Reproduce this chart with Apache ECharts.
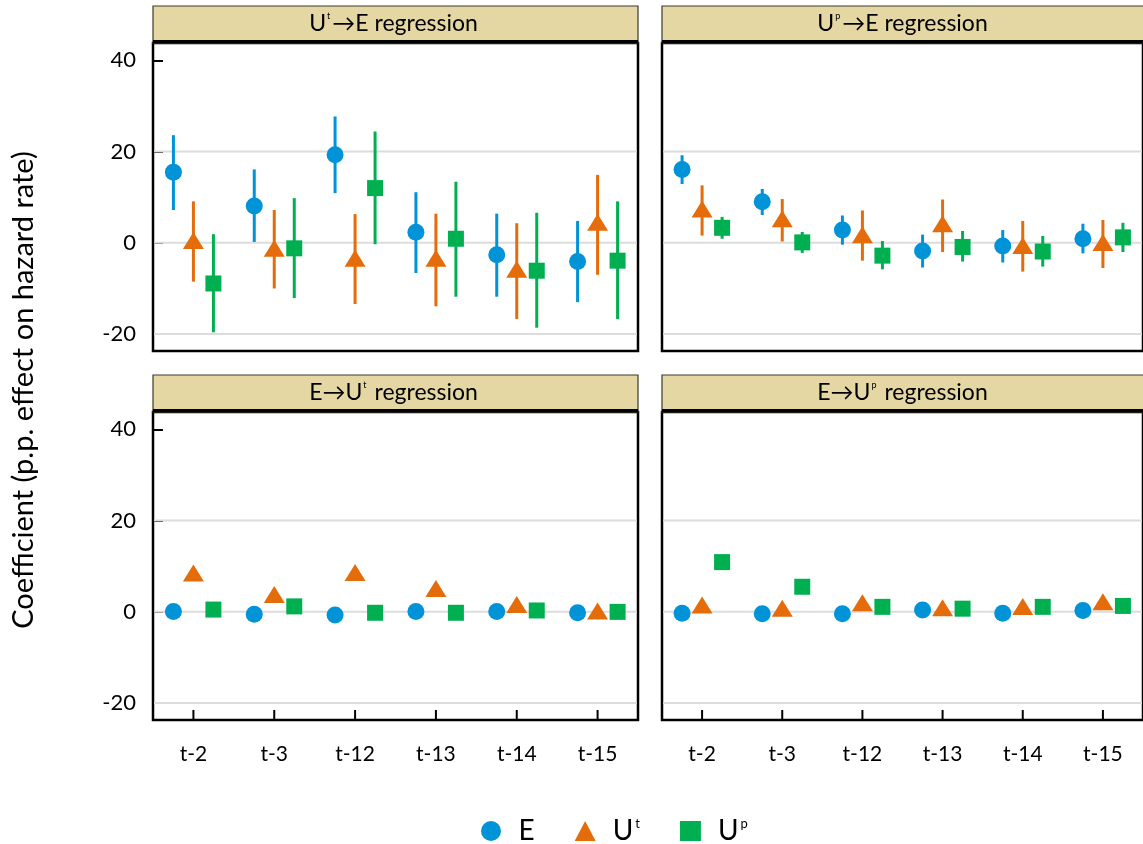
<!DOCTYPE html>
<html><head><meta charset="utf-8">
<script src="https://cdn.jsdelivr.net/npm/echarts@6/dist/echarts.min.js"></script>
<style>html,body{margin:0;padding:0;background:#fff}#c{width:1143px;height:844px}</style>
</head><body><div id="c"></div>
<script>
const categories = ['t-2', 't-3', 't-12', 't-13', 't-14', 't-15'];
const yTicks = [-20, 0, 20, 40];
const gridValues = [-20, 0, 20];
const yMin = -23.7, yMax = 43.8;
const seriesNames = ['E', 'Ut', 'Up'];
// [estimate, lower, upper]
const utE_E  = [[15.5, 7.2, 23.6], [8.1, 0.2, 16.1], [19.3, 10.9, 27.7], [2.3, -6.6, 11.1], [-2.6, -11.8, 6.4], [-4.1, -13.0, 4.8]];
const utE_Ut = [[0.5, -8.5, 9.1], [-1.2, -10.0, 7.2], [-3.4, -13.4, 6.3], [-3.4, -13.9, 6.4], [-5.8, -16.7, 4.3], [4.5, -7.0, 14.9]];
const utE_Up = [[-8.9, -19.6, 1.9], [-1.2, -12.1, 9.8], [12.0, -0.3, 24.4], [0.9, -11.8, 13.4], [-6.1, -18.6, 6.6], [-3.9, -16.7, 9.1]];
const upE_E  = [[16.1, 12.9, 19.2], [9.0, 6.1, 11.8], [2.8, -0.4, 6.0], [-1.8, -5.4, 1.8], [-0.7, -4.3, 2.8], [0.9, -2.3, 4.2]];
const upE_Ut = [[7.4, 1.6, 12.6], [5.3, 0.3, 9.6], [1.8, -3.9, 7.1], [4.2, -2.0, 9.5], [-0.6, -6.3, 4.8], [0.1, -5.5, 5.0]];
const upE_Up = [[3.3, 0.9, 5.7], [0.1, -2.2, 2.4], [-2.8, -5.8, 0.4], [-0.9, -4.1, 2.6], [-1.9, -5.2, 1.5], [1.2, -2.0, 4.4]];
// estimates only
const eUt_E  = [0.1, -0.5, -0.7, 0.1, 0.1, -0.2];
const eUt_Ut = [8.5, 3.8, 8.6, 5.1, 1.6, 0.2];
const eUt_Up = [0.5, 1.2, -0.2, -0.2, 0.3, 0.0];
const eUp_E  = [-0.3, -0.4, -0.4, 0.4, -0.3, 0.3];
const eUp_Ut = [1.5, 0.8, 2.0, 0.9, 1.2, 2.2];
const eUp_Up = [10.9, 5.5, 1.1, 0.7, 1.1, 1.3];

const COLORS = {E: '#0093D8', Ut: '#E46C0A', Up: '#00AF50'};
const SYMBOLS = {E: 'circle', Ut: 'triangle', Up: 'rect'};
const SIZES = {E: 17, Ut: [21, 17], Up: 16};
const SHIFT = {E: -20, Ut: 0, Up: 20};
const FONT = 'Lato, "Open Sans", sans-serif';

const panels = [
  {title: '{m|U}{s|t}{m|→E regression}', left: 153, top: 43, bottomRow: false, leftCol: true, data: {E: utE_E, Ut: utE_Ut, Up: utE_Up}},
  {title: '{m|U}{s|p}{m|→E regression}', left: 662, top: 43, bottomRow: false, leftCol: false, data: {E: upE_E, Ut: upE_Ut, Up: upE_Up}},
  {title: '{m|E→U}{s|t}{m| regression}', left: 153, top: 412, bottomRow: true, leftCol: true, data: {E: eUt_E, Ut: eUt_Ut, Up: eUt_Up}},
  {title: '{m|E→U}{s|p}{m| regression}', left: 662, top: 412, bottomRow: true, leftCol: false, data: {E: eUp_E, Ut: eUp_Ut, Up: eUp_Up}}
];
const PW = 485, PH = 308, HH = 37;

const grids = [], xAxes = [], yAxes = [], series = [], graphics = [];
panels.forEach((p, gi) => {
  grids.push({left: p.left, top: p.top, width: PW, height: PH, show: true, borderColor: '#000', borderWidth: 2.5, backgroundColor: 'transparent', containLabel: false});
  xAxes.push({
    type: 'category', gridIndex: gi, data: categories, boundaryGap: true, position: 'bottom',
    axisLine: {show: false, onZero: false},
    axisTick: {show: false},
    axisLabel: {show: p.bottomRow, fontSize: 21, fontFamily: FONT, color: '#000', margin: 24},
    splitLine: {show: false}
  });
  yAxes.push({
    type: 'value', gridIndex: gi, min: yMin, max: yMax,
    axisLine: {show: false, onZero: false},
    axisTick: {show: p.leftCol, inside: true, length: 10, lineStyle: {color: '#000', width: 2}, customValues: yTicks},
    axisLabel: {show: p.leftCol, fontSize: 22, fontFamily: FONT, color: '#000', margin: 17, customValues: yTicks},
    splitLine: {show: false}
  });
  // gridlines
  series.push({
    type: 'custom', xAxisIndex: gi, yAxisIndex: gi, silent: true, z: 1,
    data: gridValues.map(v => [0, v]),
    encode: {x: 0, y: 1},
    renderItem: (params, api) => {
      const cs = params.coordSys;
      const y = api.coord([0, api.value(1)])[1];
      return {type: 'line', shape: {x1: cs.x + 1, y1: y, x2: cs.x + cs.width - 1, y2: y}, style: {stroke: '#dcdcdc', lineWidth: 2}};
    }
  });
  seriesNames.forEach(nm => {
    const d = p.data[nm];
    const hasCI = Array.isArray(d[0]);
    series.push({
      type: 'scatter', name: nm, xAxisIndex: gi, yAxisIndex: gi, z: 3,
      data: d.map((r, i) => [i, hasCI ? r[0] : r]),
      symbol: SYMBOLS[nm], symbolSize: SIZES[nm], symbolOffset: [SHIFT[nm], 0],
      itemStyle: {color: COLORS[nm], opacity: 1}
    });
    if (hasCI) {
      series.push({
        type: 'custom', name: nm, xAxisIndex: gi, yAxisIndex: gi, silent: true, z: 2,
        itemStyle: {color: COLORS[nm]},
        data: d.map((r, i) => [i, r[1], r[2]]),
        encode: {x: 0, y: [1, 2]},
        renderItem: (params, api) => {
          const lo = api.coord([api.value(0), api.value(1)]);
          const hi = api.coord([api.value(0), api.value(2)]);
          const x = lo[0] + SHIFT[nm];
          return {type: 'line', shape: {x1: x, y1: lo[1], x2: x, y2: hi[1]}, style: {stroke: COLORS[nm], lineWidth: 3}};
        }
      });
    }
  });
  graphics.push({type: 'rect', z: 10, shape: {x: p.left, y: p.top - HH, width: PW, height: HH}, style: {fill: '#E4D7A3', stroke: '#3d3a2a', lineWidth: 1.2}});
  graphics.push({type: 'rect', z: 11, shape: {x: p.left, y: p.top - 3, width: PW, height: 3}, style: {fill: '#000'}});
  graphics.push({type: 'text', z: 12, x: p.left + PW / 2 - 2, y: p.top - HH / 2 - 1,
    style: {text: p.title, align: 'center', verticalAlign: 'middle', textAlign: 'center', textVerticalAlign: 'middle',
      rich: {m: {fontSize: 23, fontFamily: FONT, fill: '#000', color: '#000'}, s: {fontSize: 9, fontFamily: FONT, fill: '#000', color: '#000', verticalAlign: 'top', padding: [0, 2, 0, 1]}}}});
});

graphics.push({type: 'text', x: 24, y: 390, rotation: Math.PI / 2,
  style: {text: 'Coefficient (p.p. effect on hazard rate)', font: '29px ' + FONT, fill: '#000', align: 'center', verticalAlign: 'middle', textAlign: 'center', textVerticalAlign: 'middle'}});

const legendLabels = {E: '{m|E}', Ut: '{m|U}{s|t}', Up: '{m|U}{s|p}'};

const chart = echarts.init(document.getElementById('c'), null, {renderer: 'canvas'});
chart.setOption({
  animation: false,
  backgroundColor: '#fff',
  grid: grids, xAxis: xAxes, yAxis: yAxes, series: series,
  legend: {
    left: 476, top: 812, itemWidth: 21, itemHeight: 20, itemGap: 40,
    data: seriesNames.map(n => ({name: n, icon: SYMBOLS[n], itemStyle: {color: COLORS[n]}})),
    formatter: n => legendLabels[n],
    textStyle: {rich: {m: {fontSize: 28, fontFamily: FONT, color: '#000', padding: [0, 0, 0, 12]}, s: {fontSize: 13, fontFamily: FONT, color: '#000', verticalAlign: 'top', padding: [0, 0, 0, 2]}}}
  }
});

// category tick marks on the lower panels, positioned through the axes' scales
panels.forEach((p, gi) => {
  if (!p.bottomRow) return;
  categories.forEach((c, i) => {
    const pt = chart.convertToPixel({gridIndex: gi}, [i, yMin]);
    if (!pt) return;
    graphics.push({type: 'line', z: 100, shape: {x1: pt[0], y1: pt[1], x2: pt[0], y2: pt[1] - 10}, style: {stroke: '#000', lineWidth: 2}});
  });
});
chart.setOption({graphic: graphics});
</script></body></html>
